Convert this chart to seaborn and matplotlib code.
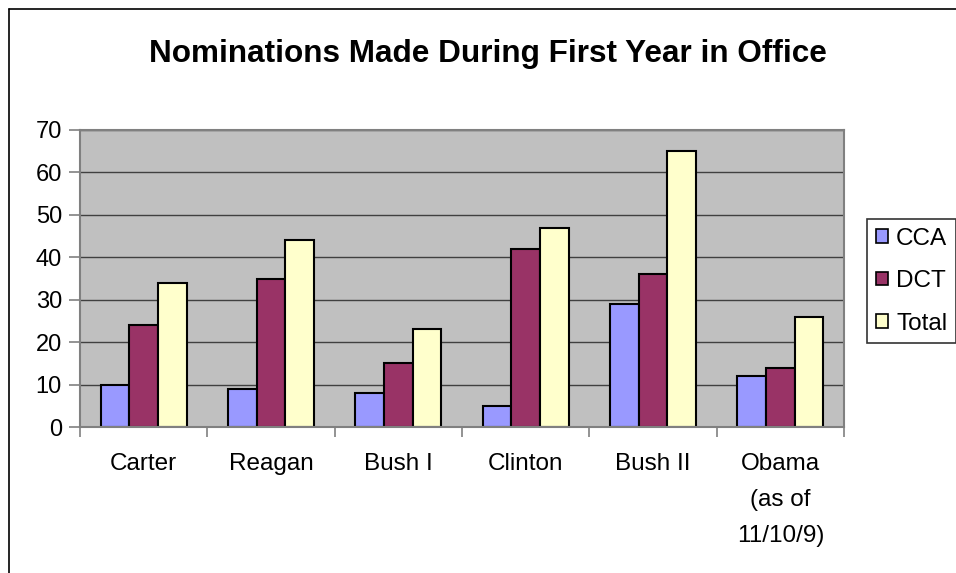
import matplotlib
matplotlib.use("Agg")
import matplotlib.pyplot as plt
from matplotlib.lines import Line2D
from matplotlib.ticker import FixedLocator
import seaborn as sns
import pandas as pd

presidents = ["Carter", "Reagan", "Bush I", "Clinton", "Bush II", "Obama\n(as of\n11/10/9)"]
series_names = ["CCA", "DCT", "Total"]
cca = [10, 9, 8, 5, 29, 12]
dct = [24, 35, 15, 42, 36, 14]
total = [34, 44, 23, 47, 65, 26]
yticks = [0, 10, 20, 30, 40, 50, 60, 70]
colors = ["#9999FF", "#993366", "#FFFFCC"]

rows = []
for name, vals in zip(series_names, [cca, dct, total]):
    for p, v in zip(presidents, vals):
        rows.append({"President": p, "Series": name, "Count": v})
df = pd.DataFrame(rows)

sns.set_style("white")
plt.rcParams["font.family"] = ["Liberation Sans", "DejaVu Sans"]
plt.rcParams["text.color"] = "black"
plt.rcParams["xtick.labelcolor"] = "black"
plt.rcParams["ytick.labelcolor"] = "black"

W, H = 956, 573
fig = plt.figure(figsize=(W / 100, H / 100), dpi=100)
ax = fig.add_axes([80 / W, 1 - 427 / H, (844 - 80) / W, (427 - 130) / H])
ax.set_facecolor("#C0C0C0")

sns.barplot(data=df, x="President", y="Count", hue="Series", palette=colors,
            saturation=1, edgecolor="black", linewidth=1.5, width=0.675,
            ax=ax, legend=True)

ax.set_ylim(0, 70)
ax.set_xlim(-0.5, len(presidents) - 0.5)
ax.set_yticks(yticks)
ax.set_yticklabels([str(t) for t in yticks], fontsize=17, color="black")
ax.set_xlabel("")
ax.set_ylabel("")
ax.set_axisbelow(True)
ax.yaxis.grid(True, color="#404040", linewidth=1)
ax.xaxis.grid(False)
for s in ax.spines.values():
    s.set_color("#808080")
    s.set_linewidth(1.5)

ax.tick_params(axis="y", which="major", length=8, width=1.2, color="#808080",
               direction="out", pad=5, left=True)
ax.tick_params(axis="x", which="major", length=0, pad=19)
ax.xaxis.set_minor_locator(FixedLocator([i - 0.5 for i in range(len(presidents) + 1)]))
ax.tick_params(axis="x", which="minor", length=7, width=1.2, color="#808080",
               direction="out", bottom=True)
for lab in ax.get_xticklabels():
    lab.set_fontsize(17.5)
    lab.set_color("black")
    lab.set_linespacing(1.8)
    lab.set_verticalalignment("top")

ax.legend_.remove()
handles = [plt.Rectangle((0, 0), 1, 1, facecolor=c, edgecolor="black", linewidth=1.2)
           for c in colors]
leg = fig.legend(handles, series_names, loc="upper left",
                 bbox_to_anchor=(867 / W, 1 - 219 / H), fontsize=17.5,
                 frameon=True, fancybox=False, edgecolor="black",
                 handlelength=0.5, handleheight=0.5, handletextpad=0.35,
                 labelspacing=0.85, borderpad=0.35, borderaxespad=0)
leg.get_frame().set_linewidth(1.2)
for t in leg.get_texts():
    t.set_color("black")

fig.text(488 / W, 1 - 54 / H, "Nominations Made During First Year in Office",
         ha="center", va="center", fontsize=22.7, fontweight="bold", color="black")

fig.add_artist(Line2D([8.5 / W, 8.5 / W], [0, 1 - 9 / H], color="black", linewidth=1.2,
                      transform=fig.transFigure))
fig.add_artist(Line2D([8.5 / W, 1], [1 - 9 / H, 1 - 9 / H], color="black", linewidth=1.2,
                      transform=fig.transFigure))

fig.savefig("out.png", dpi=100, facecolor="white")
